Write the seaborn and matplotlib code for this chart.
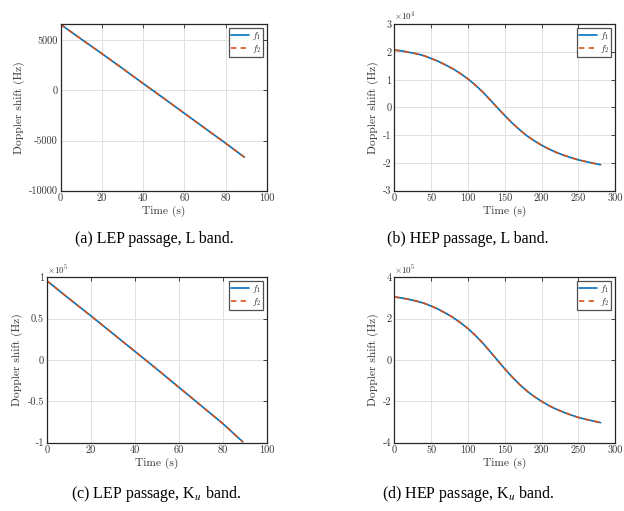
import matplotlib
matplotlib.use("Agg")
import matplotlib.pyplot as plt
import seaborn as sns
import pandas as pd
from matplotlib.ticker import FuncFormatter

# ---- data -------------------------------------------------------------
# LEP passage, L band (Hz)
lep_t = [0, 10, 20, 30, 40, 50, 60, 70, 80, 89]
lep_l_f1 = [6600, 5130, 3680, 2200, 700, -780, -2280, -3780, -5270, -6650]
lep_l_f2 = [6600, 5130, 3680, 2200, 700, -780, -2280, -3780, -5270, -6650]

# LEP passage, Ku band (x1e5 Hz)
lep_ku_f1 = [0.96, 0.745, 0.535, 0.32, 0.105, -0.11, -0.33, -0.55, -0.77, -0.99]
lep_ku_f2 = [0.96, 0.745, 0.535, 0.32, 0.105, -0.11, -0.33, -0.55, -0.77, -0.99]

# HEP passage time base (s)
hep_t = [0, 10, 20, 30, 40, 50, 60, 70, 80, 90, 100, 110, 120, 130, 140,
         150, 160, 170, 180, 190, 200, 210, 220, 230, 240, 250, 260, 270, 280]

# HEP passage, L band (x1e4 Hz)
hep_l_f1 = [2.07, 2.04, 1.99, 1.94, 1.87, 1.77, 1.66, 1.53, 1.39, 1.22, 1.03,
            0.81, 0.56, 0.28, -0.01, -0.29, -0.56, -0.80, -1.02, -1.20, -1.36,
            -1.50, -1.62, -1.72, -1.81, -1.89, -1.95, -2.01, -2.06]
hep_l_f2 = list(hep_l_f1)

# HEP passage, Ku band (x1e5 Hz)
hep_ku_f1 = [3.05, 3.00, 2.93, 2.85, 2.75, 2.61, 2.45, 2.26, 2.05, 1.80, 1.52,
             1.19, 0.82, 0.41, -0.01, -0.43, -0.82, -1.18, -1.50, -1.77, -2.00,
             -2.21, -2.38, -2.53, -2.66, -2.78, -2.87, -2.95, -3.03]
hep_ku_f2 = list(hep_ku_f1)

captions = ["(a) LEP passage, L band.", "(b) HEP passage, L band.",
            "(c) LEP passage, K$_{u}$ band.", "(d) HEP passage, K$_{u}$ band."]

# ---- style ------------------------------------------------------------
sns.set_style("whitegrid")
plt.rcParams.update({
    "font.family": ["cmr10", "DejaVu Serif"],
    "mathtext.fontset": "cm",
    "axes.unicode_minus": False,
    "axes.formatter.use_mathtext": True,
})

BLUE = "#0072BD"
ORANGE = "#D95319"
SPINE = "#262626"

fig = plt.figure(figsize=(6.24, 5.11), dpi=100)

W, H = 624.0, 511.0
def box(l, r, t, b):
    return [l / W, 1 - b / H, (r - l) / W, (b - t) / H]

ax_a = fig.add_axes(box(60.5, 267, 24.3, 190.7))
ax_b = fig.add_axes(box(394.3, 615.3, 24.3, 190.7))
ax_c = fig.add_axes(box(46.7, 267, 277.3, 442.7))
ax_d = fig.add_axes(box(394.3, 615.3, 277.3, 442.7))

panels = [
    (ax_a, lep_t, lep_l_f1, lep_l_f2, (0, 100), [0, 20, 40, 60, 80, 100],
     (-10000, 6600), [-10000, -5000, 0, 5000], None, "{:.0f}"),
    (ax_b, hep_t, hep_l_f1, hep_l_f2, (0, 300), [0, 50, 100, 150, 200, 250, 300],
     (-3, 3), [-3, -2, -1, 0, 1, 2, 3], 4, "{:g}"),
    (ax_c, lep_t, lep_ku_f1, lep_ku_f2, (0, 100), [0, 20, 40, 60, 80, 100],
     (-1, 1), [-1, -0.5, 0, 0.5, 1], 5, "{:g}"),
    (ax_d, hep_t, hep_ku_f1, hep_ku_f2, (0, 300), [0, 50, 100, 150, 200, 250, 300],
     (-4, 4), [-4, -2, 0, 2, 4], 5, "{:g}"),
]

for ax, t, f1, f2, xl, xt, yl, yt, expo, fmt in panels:
    df = pd.DataFrame({"t": t, "f1": f1, "f2": f2})
    sns.lineplot(data=df, x="t", y="f1", ax=ax, color=BLUE, lw=1.2,
                 label="$f_1$", sort=False)
    sns.lineplot(data=df, x="t", y="f2", ax=ax, color=ORANGE, lw=1.2,
                 linestyle=(0, (3.2, 2.6)), label="$f_2$", sort=False)
    ax.set_xlim(*xl)
    ax.set_ylim(*yl)
    ax.set_xticks(xt)
    ax.set_yticks(yt)
    ax.yaxis.set_major_formatter(FuncFormatter(lambda v, p, f=fmt: f.format(v)))
    ax.xaxis.set_major_formatter(FuncFormatter(lambda v, p: "{:g}".format(v)))
    ax.set_xlabel("Time (s)", fontsize=8.3, color="#333333", labelpad=2)
    ax.set_ylabel("Doppler shift (Hz)", fontsize=8.3, color="#333333", labelpad=3)
    ax.tick_params(axis="both", which="both", direction="in", length=3,
                   width=0.6, labelsize=7.4, colors=SPINE, labelcolor="#333333",
                   top=True, right=True, pad=2)
    ax.grid(True, color="#e0e0e0", lw=0.7)
    for s in ax.spines.values():
        s.set_visible(True)
        s.set_color(SPINE)
        s.set_linewidth(0.9)
    if expo is not None:
        ax.text(0.0, 1.005, r"$\times 10^{%d}$" % expo, transform=ax.transAxes,
                ha="left", va="bottom", fontsize=6.5, color="#333333")
    leg = ax.legend(loc="upper right", fontsize=6.5, frameon=True, fancybox=False,
                    borderpad=0.2, handlelength=2.0, handletextpad=0.35,
                    labelspacing=0.1, borderaxespad=0.45)
    leg.get_frame().set_edgecolor(SPINE)
    leg.get_frame().set_linewidth(0.9)

cap_pos = [(0.247, 239), (0.75, 239), (0.25, 494), (0.75, 494)]
for (cx, cy), text in zip(cap_pos, captions):
    fig.text(cx, 1 - cy / H, text, ha="center", va="center", fontsize=11.5,
             family="Liberation Serif", math_fontfamily="stix", color="black")

fig.savefig("out.png", dpi=100)
